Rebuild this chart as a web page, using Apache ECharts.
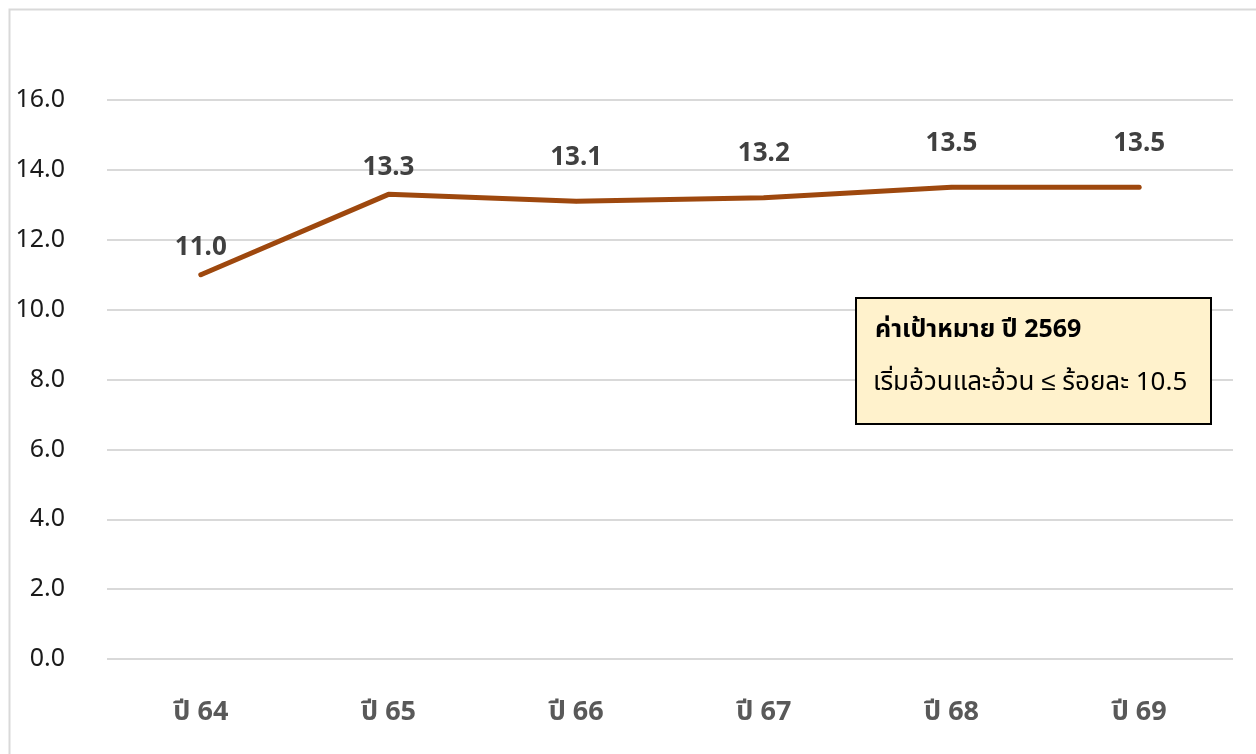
<!DOCTYPE html>
<html>
<head>
<meta charset="utf-8">
<script src="https://cdn.jsdelivr.net/npm/echarts@6/dist/echarts.min.js"></script>
<style>
html,body{margin:0;padding:0;background:#fff;}
#c{width:1256px;height:754px;}
</style>
</head>
<body>
<div id="c"></div>
<script>
const categories = ['ปี 64', 'ปี 65', 'ปี 66', 'ปี 67', 'ปี 68', 'ปี 69'];
const values = [11.0, 13.3, 13.1, 13.2, 13.5, 13.5];
const boxTitle = 'ค่าเป้าหมาย ปี 2569';
const boxText = 'เริ่มอ้วนและอ้วน ≤ ร้อยละ 10.5';
const FONT = '"Noto Sans", "Noto Sans Thai", Tahoma, sans-serif';

const chart = echarts.init(document.getElementById('c'));
chart.setOption({
  animation: false,
  backgroundColor: '#fff',
  grid: { left: 107, right: 23, top: 100, bottom: 95 },
  xAxis: {
    type: 'category',
    data: categories,
    axisLine: { show: false },
    axisTick: { show: false },
    axisLabel: { color: '#595959', fontSize: 27, fontWeight: 'bold', fontFamily: FONT, margin: 40 }
  },
  yAxis: {
    type: 'value',
    min: 0, max: 16, interval: 2,
    axisLine: { show: false },
    axisTick: { show: false },
    splitLine: { lineStyle: { color: '#D9D9D9', width: 2 } },
    axisLabel: { color: '#1a1a1a', fontSize: 25, fontFamily: FONT, margin: 42,
      formatter: v => v.toFixed(1) }
  },
  series: [{
    type: 'line',
    data: values.map((v, i) => ({ value: v, label: { distance: i < 2 ? 12 : 29 } })),
    symbol: 'circle',
    symbolSize: 4,
    showSymbol: true,
    itemStyle: { color: '#9E480E' },
    lineStyle: { color: '#9E480E', width: 5, cap: 'round' },
    label: {
      show: true, position: 'top',
      color: '#404040', fontSize: 26, fontWeight: 'bold', fontFamily: FONT,
      formatter: p => p.value.toFixed(1)
    }
  }],
  graphic: [
    { type: 'rect', left: 7, top: 7, z: -1,
      shape: { width: 1260, height: 760 },
      style: { fill: 'none', stroke: '#D9D9D9', lineWidth: 2 } },
    { type: 'rect', left: 855, top: 297, z: 10,
      shape: { width: 355, height: 126 },
      style: { fill: '#FFF2CC', stroke: '#000', lineWidth: 2 } },
    { type: 'text', left: 875, top: 317, z: 11,
      style: { text: boxTitle, fill: '#000', font: 'bold 25px ' + FONT } },
    { type: 'text', left: 873, top: 370, z: 11,
      style: { text: boxText, fill: '#000', font: '26px ' + FONT } }
  ]
});
</script>
</body>
</html>
